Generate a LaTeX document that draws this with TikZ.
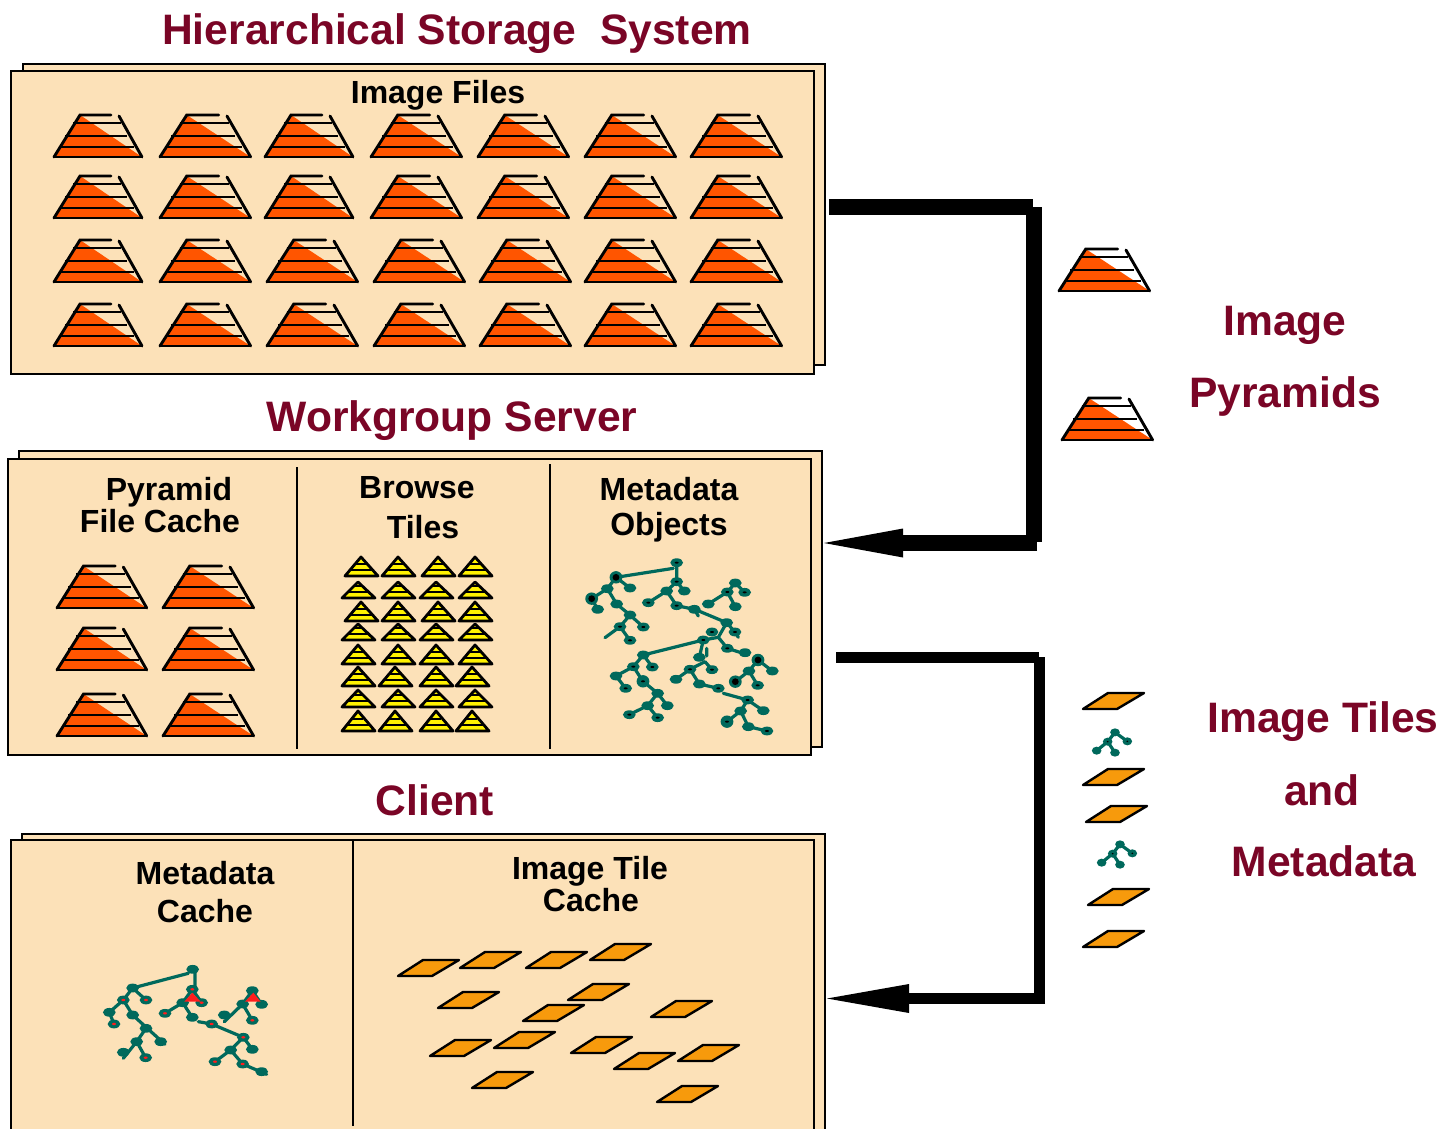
\documentclass[tikz,border=0pt]{standalone}
\usepackage{fontspec}
\setmainfont{Liberation Sans}
\usetikzlibrary{arrows.meta}
\definecolor{paper}{HTML}{FCE1B8}
\definecolor{maroon}{HTML}{7A0526}
\definecolor{pyrorange}{HTML}{FF5500}
\definecolor{tileorange}{HTML}{F79A0C}
\definecolor{treegreen}{HTML}{00695C}
\tikzset{
  stackbox/.style={draw=black,line width=2.4pt,fill=paper,anchor=north west,inner sep=0pt,outer sep=0pt},
  heading/.style={font=\bfseries\fontsize{42.6}{42.6}\selectfont,text=maroon,inner sep=0pt},
  label/.style={font=\bfseries\fontsize{32}{32}\selectfont,text=black,inner sep=0pt},
  divider/.style={draw=black,line width=2.4pt},
  bigflow/.style={draw=black,line width=16pt},
  smallflow/.style={draw=black,line width=11pt},
  bighead/.style={-{Triangle[length=79pt,width=29pt,line width=0pt]},shorten >=2pt},
  smallhead/.style={-{Triangle[length=82pt,width=29pt,line width=0pt]},shorten >=2pt},
  treeedge/.style={draw=treegreen,line width=3.2pt,line cap=round},
}
\newcommand{\pyr}[3]{%
  \begin{scope}[shift={(#1,#2)},xscale=#3]
    \fill[pyrorange] (0,0) -- (26,-42) -- (88,0) -- cycle;
    \draw[line width=2.9pt,line cap=round] (0,0) -- (87,0);
    \draw[line width=2.9pt,line cap=round] (0,0) -- (26,-42) -- (57,-42);
    \draw[line width=2.9pt,line cap=round] (65,-41) -- (88,0);
    \draw[line width=2.7pt] (19,-34) -- (67,-34);
    \draw[line width=2.7pt] (11,-21) -- (73,-21);
    \draw[line width=2.7pt] (6,-10) -- (80,-10);
  \end{scope}}
\newcommand{\ypyr}[3]{%
  \begin{scope}[shift={(#1,#2)}]
    \filldraw[fill=yellow,draw=black,line width=2.8pt,line join=round] (0,0) -- (16,-#3) -- (33,0) -- cycle;
    \draw[line width=2.2pt] (6,-6) -- (27,-6);
    \draw[line width=1.4pt] (11,-12) -- (21,-12);
  \end{scope}}
\newcommand{\tile}[2]{%
  \filldraw[shift={(#1,#2)},fill=tileorange,draw=black,line width=2.4pt,line join=round]
    (0,0) -- (25,-16) -- (61,-16) -- (34,0) -- cycle;}
\newcommand{\minitree}[2]{%
  \begin{scope}[shift={(#1,#2)},x=.3333pt,y=-.3333pt]
    \draw[treeedge] (135,157) -- (172,184) (135,157) -- (113,185) -- (80,212) (113,185) -- (135,218);
    \foreach \a/\b in {135/157,113/185,172/184,135/218,80/212}
      \fill[treegreen] (\a,\b) ellipse [x radius=4.8pt,y radius=4pt];
    \foreach \a/\b in {113/185,172/184}
      \fill[black] (\a,\b) ellipse [x radius=1pt,y radius=.8pt];
  \end{scope}}
\begin{document}
\begin{tikzpicture}[x=1pt,y=-1pt]
\useasboundingbox (0,0) rectangle (1444,1128);
\clip (0,0) rectangle (1444,1128);
\fill[white] (0,0) rectangle (1444,1128);

% stacked panels
\node[stackbox,minimum width=802pt,minimum height=301pt] (topback) at (23,64) {};
\node[stackbox,minimum width=803pt,minimum height=303pt] (topfront) at (11,71) {};
\node[stackbox,minimum width=803pt,minimum height=296pt] (midback) at (19,451) {};
\node[stackbox,minimum width=803pt,minimum height=296pt] (midfront) at (8,459) {};
\node[stackbox,minimum width=803pt,minimum height=320pt] (lowback) at (22,834) {};
\node[stackbox,minimum width=803pt,minimum height=320pt] (lowfront) at (11,840) {};

% dividers
\draw[divider] (297,467) -- (297,749);
\draw[divider] (550,464) -- (550,749);
\draw[divider] (353,841) -- (353,1126);

% headings and labels
\node[heading] (t1) at (457,34) {Hierarchical Storage\ \ System};
\node[heading] (t2) at (452,421) {Workgroup Server};
\node[heading] (t3) at (435,800) {Client};
\node[heading] (r1) at (1285,325) {Image};
\node[heading] (r2) at (1285,396) {Pyramids};
\node[heading] (r3) at (1323,722) {Image Tiles};
\node[heading] (r4) at (1322,790) {and};
\node[heading] (r5) at (1324,861) {Metadata};
\node[label] (l1) at (438,95) {Image Files};
\node[label] (l2) at (169,492) {Pyramid};
\node[label] (l3) at (160,521) {File Cache};
\node[label] (l4) at (417,488) {Browse};
\node[label] (l5) at (423,527) {Tiles};
\node[label] (l6) at (669,489) {Metadata};
\node[label] (l7) at (669,527) {Objects};
\node[label] (l8) at (205,873) {Metadata};
\node[label] (l9) at (205,911) {Cache};
\node[label] (l10) at (590,871) {Image Tile};
\node[label] (l11) at (591,900) {Cache};

% image files pyramids
\foreach \py in {157,218}
  \foreach \px/\ps in {54/1,160/1.03,265/1,371/1.03,478/1.03,585/1.03,691/1.03} {\pyr{\px}{\py}{\ps}}
\foreach \py in {282,346}
  \foreach \px/\ps in {54/1,160/1.03,267/1.03,374/1.03,480/1.03,585/1.03,691/1.03} {\pyr{\px}{\py}{\ps}}
% legend and file cache pyramids
\pyr{1059}{291}{1.03}
\pyr{1062}{440}{1.03}
\foreach \py in {608,670,736}
  \foreach \px/\ps in {57/1.02,163/1.03} {\pyr{\px}{\py}{\ps}}

% browse tiles
\foreach \px in {345,382,422,459} {\ypyr{\px}{576}{19}}
\foreach \px in {342,382,420,459} {\ypyr{\px}{598}{16}}
\foreach \px in {345,382,422,459} {\ypyr{\px}{621}{19}}
\foreach \px in {342,382,420,459} {\ypyr{\px}{640}{16}}
\foreach \px in {342,382,420,459} {\ypyr{\px}{664}{19}}
\foreach \px in {342,379,420,456} {\ypyr{\px}{686}{19}}
\foreach \px in {342,382,420,459} {\ypyr{\px}{707}{17}}
\foreach \px in {342,379,420,456} {\ypyr{\px}{731}{20}}

% metadata tree
\begin{scope}[shift={(575,550)},x=.3333pt,y=-.3333pt]
  \draw[treeedge] (123,82) -- (295,55)
    (305,38) -- (305,95) -- (275,123) -- (220,158)
    (305,95) -- (328,123)
    (275,123) -- (305,167) -- (358,178) -- (370,198)
    (345,172) -- (455,218) -- (480,246) -- (490,262)
    (455,218) -- (430,262) -- (385,270) -- (205,315)
    (385,270) -- (373,322) (395,295) -- (395,318)
    (430,262) -- (457,295) -- (520,315)
    (123,82) -- (165,114)
    (123,82) -- (97,116) -- (50,146) -- (68,178)
    (97,116) -- (125,162) -- (165,195) -- (135,230) -- (90,263)
    (135,230) -- (165,271) (165,195) -- (205,231)
    (205,315) -- (175,350) -- (123,378) -- (152,415)
    (205,315) -- (232,351)
    (175,350) -- (204,394) -- (248,430) -- (218,467) -- (163,494)
    (218,467) -- (248,503) (248,430) -- (277,467)
    (390,335) -- (345,358) -- (303,388) (390,335) -- (411,359)
    (345,358) -- (373,402) -- (430,415)
    (445,430) -- (518,450) -- (565,482)
    (518,450) -- (497,483) -- (456,515)
    (497,483) -- (520,530) -- (576,543)
    (549,330) -- (592,363) (549,330) -- (522,363) -- (481,395)
    (522,363) -- (548,406)
    (481,99) -- (457,126) -- (400,162) (481,99) -- (509,127)
    (457,126) -- (481,170);
  \foreach \a/\b in {305/38,165/114,97/116,68/178,125/162,165/195,135/230,205/231,165/271,
    305/95,275/123,328/123,220/158,305/167,358/178,455/218,480/246,411/246,385/270,373/322,
    457/295,510/308,205/315,175/350,232/351,123/378,152/415,248/430,218/467,277/467,163/494,
    248/503,345/358,411/359,303/388,373/402,430/415,522/363,592/363,548/406,518/450,565/482,
    497/483,520/530,576/543,481/99,457/126,509/127,400/162,481/170}
    \fill[treegreen] (\a,\b) ellipse [x radius=6.4pt,y radius=4.4pt];
  \foreach \a/\b in {123/82,50/146,204/394,549/330,481/395,456/515}
    \fill[treegreen] (\a,\b) ellipse [x radius=6.4pt,y radius=6.2pt];
  \foreach \a/\b in {123/82,50/146,549/330,481/395}
    \fill[black] (\a,\b) circle (3.4pt);
  \foreach \a/\b in {305/38,135/230,205/231,165/271,305/95,220/158,305/167,480/246,411/246,385/270,
    457/295,175/350,232/351,152/415,163/494,248/503,345/358,411/359,430/415,548/406,518/450,576/543,457/126,509/127,456/515,204/394}
    \fill[black] (\a,\b) ellipse [x radius=2pt,y radius=1pt];
\end{scope}

% client metadata tree
\begin{scope}[shift={(90,955)},x=.3333pt,y=-.3333pt]
  \draw[treeedge] (128,99) -- (295,55)
    (315,45) -- (315,103) (307,103) -- (278,143) -- (225,175)
    (307,103) -- (335,143) (278,143) -- (307,187)
    (128,99) -- (168,135) (128,99) -- (100,135) -- (58,172) -- (72,207)
    (100,135) -- (128,180) -- (225,268)
    (168,220) -- (140,260) -- (100,310) (140,260) -- (167,308)
    (325,200) -- (365,207) -- (460,247) -- (487,283)
    (460,247) -- (422,285) -- (375,320)
    (422,285) -- (458,327) -- (530,358)
    (487,107) -- (458,147) -- (403,200) (487,107) -- (515,148)
    (458,147) -- (487,196);
  \foreach \a/\b in {308/43,128/99,168/135,100/135,58/172,72/207,128/180,168/220,140/260,212/260,
    100/292,167/308,307/103,278/143,335/143,225/175,307/187,365/207,460/247,487/283,422/285,
    375/320,458/327,515/350,487/107,458/147,515/148,403/180,487/196}
    \fill[treegreen] (\a,\b) ellipse [x radius=6.4pt,y radius=4.4pt];
  \fill[red!85!pink] (307,113) -- (283,140) -- (332,140) -- cycle;
  \fill[red!85!pink] (490,113) -- (465,140) -- (512,140) -- cycle;
  \foreach \a/\b in {168/135,100/135,72/207,167/308,307/103,335/143,225/175,365/207,460/247,375/320,458/327,487/196}
    \fill[red!85!pink] (\a,\b) ellipse [x radius=2pt,y radius=1.2pt];
\end{scope}

% tiles
\foreach \tx/\ty in {1083/709,1083/785,1086/822,1088/905,1083/947,
  398/976,460/968,526/968,590/960,438/1008,568/1000,523/1021,651/1017,
  430/1056,494/1048,571/1053,614/1069,678/1061,472/1088,657/1102} {\tile{\tx}{\ty}}
\minitree{1070}{680}
\minitree{1075}{792}

% connectors: stepped elbows, as separate butt-ended strokes
\coordinate (a1) at (829,207);
\coordinate (a2) at (1033,207);
\coordinate (a3) at (1034,207);
\coordinate (a4) at (1034,542);
\coordinate (a5) at (1037,543);
\coordinate (b1) at (836,657.5);
\coordinate (b2) at (1039,657.5);
\coordinate (b3) at (1039.5,657);
\coordinate (b4) at (1039.5,998);
\coordinate (b5) at (1045,998.5);
\draw[bigflow] (a1) -- (a2);
\draw[bigflow] (a3) -- (a4);
\draw[bigflow,bighead] (a5) -- (midback.east |- a5);
\draw[smallflow] (b1) -- (b2);
\draw[smallflow] (b3) -- (b4);
\draw[smallflow,smallhead] (b5) -- (lowback.east |- b5);
\end{tikzpicture}
\end{document}
